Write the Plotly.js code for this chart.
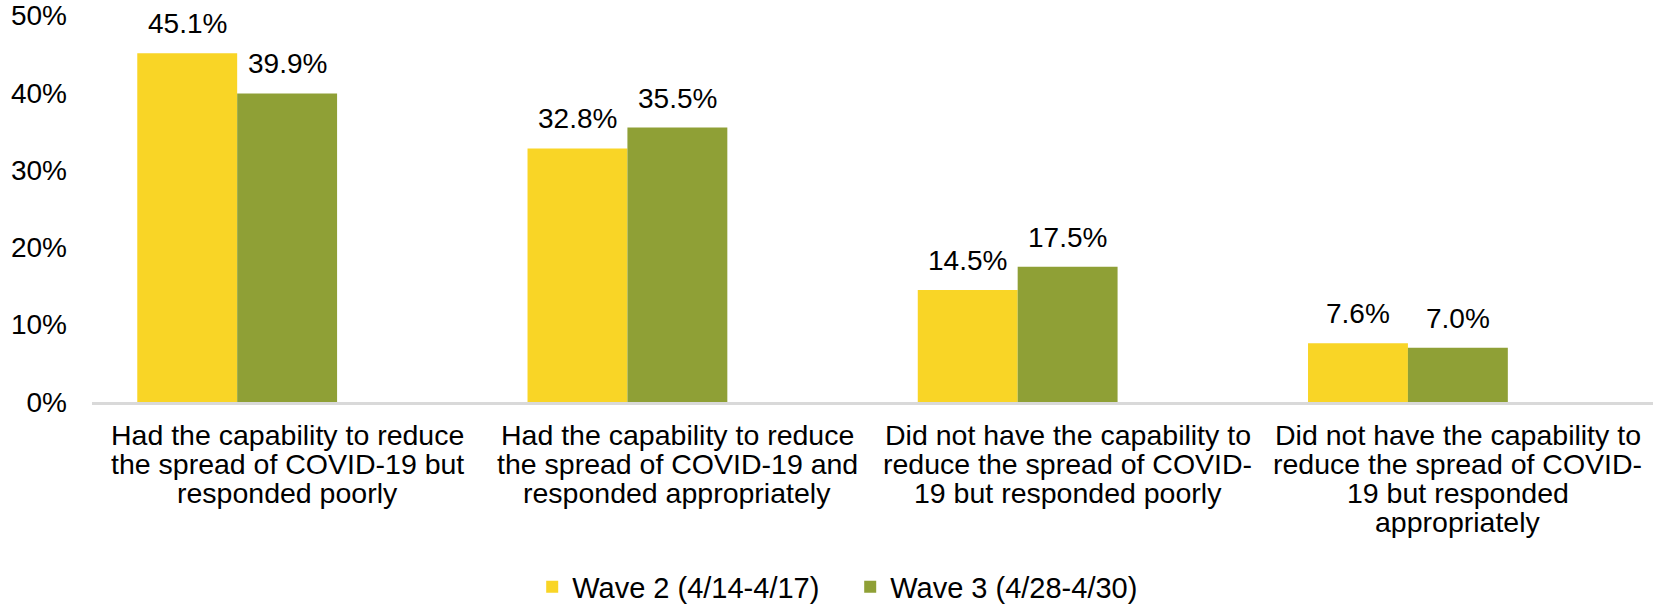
<!DOCTYPE html>
<html>
<head>
<meta charset="utf-8">
<script src="https://cdn.plot.ly/plotly-3.0.1.min.js"></script>
<style>
  html, body { margin: 0; padding: 0; background: #ffffff; }
  #chart { width: 1653px; height: 607px; }
</style>
</head>
<body>
<div id="chart"></div>
<script>
// Survey answers, one entry per response option (line breaks as shown under the axis)
const categories = [
  "Had the capability to reduce<br>the spread of COVID-19 but<br>responded poorly",
  "Had the capability to reduce<br>the spread of COVID-19 and<br>responded appropriately",
  "Did not have the capability to<br>reduce the spread of COVID-<br>19 but responded poorly",
  "Did not have the capability to<br>reduce the spread of COVID-<br>19 but responded<br>appropriately"
];

const seriesNames = ["Wave 2 (4/14-4/17)", "Wave 3 (4/28-4/30)"];

// Share of respondents per wave
const wave2 = [0.451, 0.328, 0.145, 0.076];
const wave3 = [0.399, 0.355, 0.175, 0.070];

const yTicks = [0, 0.1, 0.2, 0.3, 0.4, 0.5];

const FONT = "Liberation Sans, Arial, Helvetica, sans-serif";
const colors = ["#F9D526", "#8FA036"];
const barWidth = 0.256;
const barOffsets = [-0.384, -0.128];

const idx = categories.map((_, i) => i);
const seriesValues = [wave2, wave3];

const traces = seriesValues.map((vals, s) => ({
  type: "bar",
  name: seriesNames[s],
  x: idx,
  y: vals,
  width: vals.map(() => barWidth),
  offset: vals.map(() => barOffsets[s]),
  marker: { color: colors[s], line: { width: 0 } },
  hoverinfo: "skip"
}));

const annotations = [];

// Value labels above each bar
seriesValues.forEach((vals, s) => {
  vals.forEach((v, i) => {
    annotations.push({
      x: i + barOffsets[s] + barWidth / 2,
      y: v,
      xref: "x",
      yref: "y",
      text: (v * 100).toFixed(1) + "%",
      showarrow: false,
      xanchor: "center",
      yanchor: "bottom",
      yshift: 12,
      font: { family: FONT, size: 28, color: "#000000" }
    });
  });
});

// Category labels under the axis, one annotation per line for tight line spacing
const lineStep = 29;
categories.forEach((label, i) => {
  label.split("<br>").forEach((line, k) => {
    annotations.push({
      x: i,
      y: 0,
      xref: "x",
      yref: "paper",
      text: line,
      showarrow: false,
      xanchor: "center",
      yanchor: "top",
      yshift: -15 - lineStep * k,
      font: { family: FONT, size: 28.5, color: "#000000" }
    });
  });
});

const layout = {
  width: 1653,
  height: 607,
  margin: { l: 92, r: 0, t: 15, b: 205, autoexpand: false },
  paper_bgcolor: "#ffffff",
  plot_bgcolor: "#ffffff",
  showlegend: true,
  barmode: "overlay",
  xaxis: {
    type: "linear",
    range: [-0.5, categories.length - 0.5],
    showticklabels: false,
    showgrid: false,
    zeroline: false,
    showline: true,
    linecolor: "#D9D9D9",
    linewidth: 3,
    ticks: "",
    fixedrange: true
  },
  yaxis: {
    range: [0, 0.5005],
    tickvals: yTicks,
    tickformat: ".0%",
    showgrid: false,
    zeroline: false,
    showline: false,
    ticks: "",
    ticklabelstandoff: 24,
    ticklabeloverflow: "allow",
    tickfont: { family: FONT, size: 28, color: "#000000" },
    fixedrange: true
  },
  legend: {
    orientation: "h",
    x: 0.282,
    xanchor: "left",
    y: -0.478,
    yanchor: "middle",
    entrywidth: 273,
    entrywidthmode: "pixels",
    font: { family: FONT, size: 29, color: "#000000" },
    bgcolor: "rgba(0,0,0,0)",
    borderwidth: 0
  },
  annotations: annotations,
  font: { family: FONT, color: "#000000" }
};

Plotly.newPlot("chart", traces, layout, { displayModeBar: false, staticPlot: true });
</script>
</body>
</html>
